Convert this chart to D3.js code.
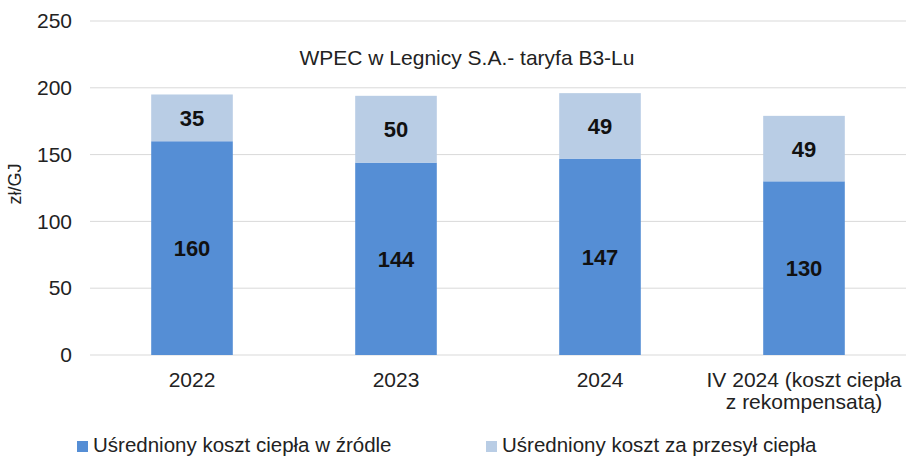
<!DOCTYPE html>
<html><head><meta charset="utf-8">
<script src="https://cdn.jsdelivr.net/npm/d3@7"></script>
<style>body{margin:0;background:#fff}svg{display:block;font-family:"Liberation Sans",Arial,sans-serif}</style>
</head><body><svg id="c" width="906" height="457"></svg>
<script>
const categories = ["2022","2023","2024","IV 2024 (koszt ciepła\nz rekompensatą)"];
const sourceCost = [160,144,147,130];
const transferCost = [35,50,49,49];
const seriesNames = ["Uśredniony koszt ciepła w źródle","Uśredniony koszt za przesył ciepła"];
const yTicks = [0,50,100,150,200,250];
const title = "WPEC w Legnicy S.A.- taryfa B3-Lu";
const yLabel = "zł/GJ";

const svg = d3.select("#c");
const colors = ["#558ed5","#b9cde5"];
const x = d3.scaleBand().domain(categories).range([90,906]).paddingInner(0.6).paddingOuter(0.3);
const y = d3.scaleLinear().domain([0,250]).range([355,21]);

// gridlines
svg.append("g").selectAll("line").data(yTicks).join("line")
  .attr("x1",90).attr("x2",906).attr("y1",d=>y(d)).attr("y2",d=>y(d))
  .attr("stroke","#d9d9d9").attr("stroke-width",1);

// y axis labels
const ya = svg.append("g").attr("transform","translate(90,0)")
  .call(d3.axisLeft(y).tickValues(yTicks).tickSize(0).tickPadding(18));
ya.select(".domain").remove();
ya.selectAll("text").attr("font-size",21).attr("fill","#222").attr("font-family","Liberation Sans, Arial, sans-serif");

// x axis
const xa = svg.append("g").attr("transform","translate(0,355)")
  .call(d3.axisBottom(x).tickSize(0).tickFormat(""));
xa.select(".domain").remove();
xa.selectAll(".tick").each(function(d){
  const lines = d.split("\n");
  const t = d3.select(this).append("text").attr("fill","#222").attr("font-size",21)
    .attr("text-anchor","middle").attr("font-family","Liberation Sans, Arial, sans-serif");
  lines.forEach((l,i)=>t.append("tspan").attr("x",0).attr("y",32+i*22).text(l));
});

// stacked bars
const data = categories.map((c,i)=>({c, a:sourceCost[i], b:transferCost[i]}));
const g = svg.append("g");
g.selectAll("rect.a").data(data).join("rect").attr("class","a")
  .attr("x",d=>x(d.c)).attr("width",x.bandwidth())
  .attr("y",d=>y(d.a)).attr("height",d=>y(0)-y(d.a)).attr("fill",colors[0]);
g.selectAll("rect.b").data(data).join("rect").attr("class","b")
  .attr("x",d=>x(d.c)).attr("width",x.bandwidth())
  .attr("y",d=>y(d.a+d.b)).attr("height",d=>y(d.a)-y(d.a+d.b)).attr("fill",colors[1]);

// value labels
g.selectAll("text.la").data(data).join("text").attr("class","la")
  .attr("x",d=>x(d.c)+x.bandwidth()/2).attr("y",d=>y(d.a/2))
  .attr("dy","0.36em").attr("text-anchor","middle").attr("font-weight","bold")
  .attr("font-size",22).attr("fill","#111").text(d=>d.a);
g.selectAll("text.lb").data(data).join("text").attr("class","lb")
  .attr("x",d=>x(d.c)+x.bandwidth()/2).attr("y",d=>y(d.a+d.b/2))
  .attr("dy","0.36em").attr("text-anchor","middle").attr("font-weight","bold")
  .attr("font-size",22).attr("fill","#111").text(d=>d.b);

// title
svg.append("text").attr("x",467).attr("y",65).attr("text-anchor","middle")
  .attr("font-size",21).attr("fill","#222").text(title);

// y label
svg.append("text").attr("transform","translate(21,184) rotate(-90)").attr("text-anchor","middle")
  .attr("font-size",18).attr("fill","#222").text(yLabel);

// legend
const lx = [77,486];
const lg = svg.append("g");
seriesNames.forEach((n,i)=>{
  lg.append("rect").attr("x",lx[i]).attr("y",441).attr("width",11).attr("height",11).attr("fill",colors[i]);
  lg.append("text").attr("x",lx[i]+16).attr("y",452).attr("font-size",20.5).attr("fill","#222").text(n);
});
</script></body></html>
